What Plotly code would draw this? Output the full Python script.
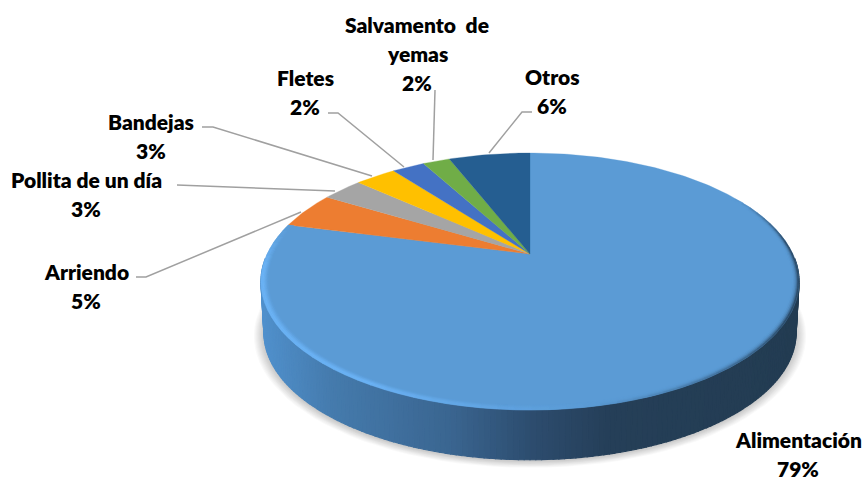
import math
import plotly.graph_objects as go

# ---- data (clockwise from 12 o'clock)
labels = ["Alimentación", "Arriendo", "Pollita de un día", "Bandejas", "Fletes", "Salvamento de yemas", "Otros"]
values = [79.0, 4.6, 3.0, 3.0, 2.4, 2.0, 6.0]
colors = ["#5b9bd5", "#ed7d31", "#a5a5a5", "#ffc000", "#4472c4", "#70ad47", "#255e91"]

# ---- projection of the pie disc (perspective) to the pixel-like axes
CX, CY, A, B, K = 530.0, 254.0, 262.8, 122.6, 0.214
DEPTH_Y, DEPTH_S = 51.5, 0.989


def project(t_deg, r=1.0, bottom=False):
    t = math.radians(t_deg)
    X, Y = r * math.sin(t), r * math.cos(t)
    d = 1 + K * Y
    s = DEPTH_S if bottom else 1.0
    oy = DEPTH_Y if bottom else 0.0
    return CX + s * A * X / d, CY + oy - s * B * Y / d


def hex2rgb(h):
    return tuple(int(h[i:i + 2], 16) for i in (1, 3, 5))


def mix(c1, c2, f):
    f = max(0.0, min(1.0, f))
    a, b = hex2rgb(c1), hex2rgb(c2)
    return "#%02x%02x%02x" % tuple(round(a[i] + (b[i] - a[i]) * f) for i in range(3))


def ramp(stops, v):
    for (v0, c0), (v1, c1) in zip(stops, stops[1:]):
        if v <= v1:
            return mix(c0, c1, (v - v0) / (v1 - v0))
    return stops[-1][1]


def poly(xs, ys, color):
    return go.Scatter(x=xs, y=ys, mode="lines", fill="toself", fillcolor=color,
                      line=dict(color=color, width=1.2), hoverinfo="skip", showlegend=False)


fig = go.Figure()

# slice angles
total = sum(values)
edges = [0.0]
for v in values:
    edges.append(edges[-1] + 360.0 * v / total)


def frange(a, b, step):
    n = max(1, int(math.ceil((b - a) / step)))
    return [a + (b - a) * i / n for i in range(n + 1)]


# soft shadow under the disc
for i in range(9):
    r = 1.036 - i * 0.004
    pts = [project(t, r, True) for t in frange(0, 360, 3)]
    fig.add_trace(go.Scatter(x=[p[0] for p in pts], y=[p[1] + 1 for p in pts], mode="lines", fill="toself",
                             fillcolor="rgba(0,0,0,0.022)", line=dict(width=0),
                             hoverinfo="skip", showlegend=False))

# side wall of the first slice, shaded along x
side_stops = [(262, "#5090cc"), (330, "#457bad"), (450, "#3a6590"), (530, "#2d4d6f"), (610, "#253f58"), (800, "#233c52")]
ts = frange(92, 268, 1.0)
for t0, t1 in zip(ts, ts[1:]):
    a0, a1 = project(t0), project(t1)
    b0, b1 = project(t0, 1, True), project(t1, 1, True)
    col = ramp(side_stops, (a0[0] + a1[0]) / 2)
    fig.add_trace(poly([a0[0], a1[0], b1[0], b0[0], a0[0]], [a0[1], a1[1], b1[1], b0[1], a0[1]], col))

# top face
for i, (v, c) in enumerate(zip(values, colors)):
    pts = [(CX, CY)] + [project(t) for t in frange(edges[i], edges[i + 1], 1)] + [(CX, CY)]
    fig.add_trace(go.Scatter(x=[p[0] for p in pts], y=[p[1] for p in pts], mode="lines", fill="toself",
                             fillcolor=c, line=dict(color=c, width=0.3), name=labels[i],
                             hoverinfo="skip", showlegend=False))

# bevel on the rim of the first slice
base = colors[0]
dark = "#2c4c6a"
light = "#6bb2f4"


def rim_colour(t, f):
    # t: angle around the disc, f: 0 inner .. 1 outer
    if t < 170:
        w = min(1, (170 - t) / 50) * min(1, (t - 60) / 25)
        return mix(base, dark, f ** 2.2 * w)
    w = min(1, (t - 170) / 40)
    if t > 265:
        w *= max(0.0, (edges[1] - t) / 19)
    return mix(base, light, w * min(1, f * 1.5))


layers = [(0.975, 0.980, 0.1), (0.980, 0.985, 0.3), (0.985, 0.990, 0.5), (0.990, 0.995, 0.75), (0.995, 1.0, 1.0)]
ts = frange(60, edges[1], 3)
for r0, r1, f in layers:
    for t0, t1 in zip(ts, ts[1:]):
        p = [project(t0, r0), project(t1, r0), project(t1, r1), project(t0, r1), project(t0, r0)]
        col = rim_colour((t0 + t1) / 2, f)
        fig.add_trace(go.Scatter(x=[q[0] for q in p], y=[q[1] for q in p], mode="lines", fill="toself",
                                 fillcolor=col, line=dict(color=col, width=0.5),
                                 hoverinfo="skip", showlegend=False))

# label text, one line per annotation: (centre x, first-line y)
label_pos = {
    "Alimentación": (798, 439),
    "Arriendo": (86, 271),
    "Pollita de un día": (86, 179),
    "Bandejas": (151, 121),
    "Fletes": (305, 77),
    "Salvamento de yemas": (417, 24),
    "Otros": (552, 76),
}
LINE = 29
for name, v in zip(labels, values):
    x, y = label_pos[name]
    lines = ["Salvamento\u00a0\u00a0de", "yemas"] if name.startswith("Salvamento") else [name]
    lines = lines + [f"{round(v / total * 100)}%"]
    for j, txt in enumerate(lines):
        fig.add_annotation(x=x, y=y + j * LINE, text=txt, showarrow=False, xref="x", yref="y",
                           xanchor="center", yanchor="middle", borderpad=0,
                           font=dict(family="Lato", size=21, color="#000000", weight=800))

# leader lines
leaders = [
    [(136, 277), (146, 277), (301, 212)],
    [(177, 185), (335, 191)],
    [(202, 127), (213, 127), (372, 176)],
    [(328, 113), (338, 113), (404, 167)],
    [(435, 90), (433, 160)],
    [(532, 112), (522, 112), (489, 153)],
]
for pts in leaders:
    path = "M " + " L ".join(f"{x} {y}" for x, y in pts)
    fig.add_shape(type="path", path=path, xref="x", yref="y", line=dict(color="#a0a0a0", width=1.5), layer="below")

fig.update_layout(
    width=866, height=481, margin=dict(l=0, r=0, t=0, b=0), autosize=False,
    paper_bgcolor="white", plot_bgcolor="white", showlegend=False,
    xaxis=dict(range=[0, 866], visible=False, fixedrange=True),
    yaxis=dict(range=[481, 0], visible=False, fixedrange=True),
)
fig.write_html("out.html", config={"displayModeBar": False},
               post_script="document.body.style.margin='0';")
